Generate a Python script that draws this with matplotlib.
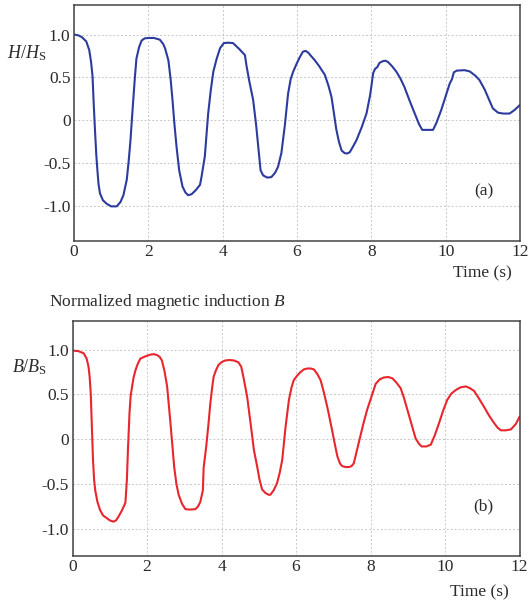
import matplotlib.pyplot as plt

plt.rcParams['font.family'] = ['Liberation Serif', 'DejaVu Serif']
plt.rcParams['mathtext.fontset'] = 'custom'
plt.rcParams['mathtext.rm'] = 'Liberation Serif'
plt.rcParams['mathtext.it'] = 'Liberation Serif:italic'

# normalized magnetic field H/Hs
t_h = [0.0, 0.12, 0.21, 0.33, 0.41, 0.46, 0.50, 0.53, 0.56, 0.60, 0.63, 0.66, 0.70,
       0.78, 0.88, 1.0, 1.15, 1.25, 1.33, 1.42, 1.47, 1.52, 1.58, 1.64, 1.68, 1.75,
       1.82, 1.90, 2.0, 2.15, 2.31, 2.40, 2.45, 2.54, 2.60, 2.65, 2.70, 2.76, 2.83,
       2.92, 3.0, 3.07, 3.16, 3.28, 3.39, 3.43, 3.52, 3.57, 3.61, 3.68, 3.75, 3.84,
       3.93, 4.03, 4.15, 4.28, 4.45, 4.60, 4.64, 4.72, 4.82, 4.90, 4.95, 5.02, 5.09,
       5.20, 5.31, 5.41, 5.49, 5.58, 5.67, 5.76, 5.83, 5.90, 5.99, 6.08, 6.16, 6.23,
       6.30, 6.40, 6.48, 6.60, 6.75, 6.85, 6.93, 7.06, 7.13, 7.20, 7.28, 7.35, 7.42,
       7.50, 7.60, 7.74, 7.87, 7.97, 8.05, 8.10, 8.16, 8.22, 8.31, 8.38, 8.45, 8.56,
       8.67, 8.78, 8.89, 9.03, 9.17, 9.28, 9.37, 9.50, 9.66, 9.75, 9.88, 10.0, 10.11,
       10.17, 10.22, 10.30, 10.51, 10.65, 10.80, 10.91, 11.05, 11.15, 11.27, 11.41,
       11.55, 11.72, 11.85, 12.0]
h = [1.0, 0.99, 0.97, 0.92, 0.82, 0.68, 0.51, 0.20, -0.07, -0.40, -0.58, -0.74, -0.85,
     -0.93, -0.97, -1.0, -1.0, -0.95, -0.87, -0.69, -0.48, -0.23, 0.15, 0.51, 0.72, 0.85,
     0.93, 0.955, 0.96, 0.96, 0.94, 0.89, 0.84, 0.70, 0.48, 0.24, -0.03, -0.31, -0.58,
     -0.77, -0.84, -0.87, -0.86, -0.81, -0.75, -0.66, -0.42, -0.15, 0.08, 0.35, 0.57, 0.72,
     0.84, 0.90, 0.905, 0.90, 0.83, 0.76, 0.64, 0.45, 0.24, -0.05, -0.27, -0.58, -0.64,
     -0.665, -0.66, -0.61, -0.54, -0.38, -0.07, 0.31, 0.48, 0.57, 0.66, 0.74, 0.80, 0.81,
     0.79, 0.74, 0.70, 0.63, 0.53, 0.40, 0.27, -0.11, -0.25, -0.35, -0.38, -0.385, -0.37,
     -0.31, -0.23, -0.08, 0.08, 0.30, 0.55, 0.60, 0.62, 0.67, 0.69, 0.695, 0.68, 0.63,
     0.57, 0.49, 0.39, 0.23, 0.08, -0.04, -0.11, -0.11, -0.11, -0.03, 0.12, 0.28, 0.43,
     0.48, 0.56, 0.58, 0.585, 0.57, 0.52, 0.47, 0.36, 0.26, 0.14, 0.09,
     0.08, 0.08, 0.12, 0.18]

# normalized magnetic induction B/Bs
t_b = [0.0, 0.15, 0.30, 0.38, 0.43, 0.46, 0.49, 0.52, 0.55, 0.58, 0.61, 0.67, 0.74,
       0.82, 0.92, 1.00, 1.10, 1.17, 1.24, 1.32, 1.42, 1.46, 1.49, 1.53, 1.56, 1.60,
       1.64, 1.69, 1.75, 1.82, 1.95, 2.09, 2.18, 2.27, 2.34, 2.40, 2.47, 2.54, 2.63,
       2.73, 2.79, 2.85, 2.94, 3.03, 3.15, 3.30, 3.37, 3.43, 3.50, 3.52, 3.59, 3.65,
       3.70, 3.75, 3.79, 3.85, 3.92, 4.00, 4.10, 4.22, 4.33, 4.45, 4.53, 4.60, 4.69,
       4.78, 4.87, 4.96, 5.02, 5.09, 5.18, 5.27, 5.31, 5.40, 5.49, 5.56, 5.63, 5.72,
       5.81, 5.88, 5.94, 6.03, 6.12, 6.21, 6.30, 6.40, 6.48, 6.57, 6.66, 6.75, 6.84,
       6.97, 7.04, 7.11, 7.18, 7.24, 7.33, 7.42, 7.49, 7.55, 7.62, 7.69, 7.80, 7.91,
       8.03, 8.14, 8.25, 8.36, 8.48, 8.59, 8.70, 8.81, 8.90, 8.99, 9.10, 9.21, 9.30,
       9.37, 9.50, 9.62, 9.73, 9.84, 9.95, 10.06, 10.17, 10.29, 10.42, 10.56, 10.67,
       10.78, 10.92, 11.05, 11.19, 11.32, 11.41, 11.50, 11.63, 11.77, 11.90, 12.0]
b = [0.99, 0.985, 0.96, 0.90, 0.81, 0.70, 0.51, 0.15, -0.23, -0.45, -0.57, -0.70, -0.79,
     -0.85, -0.88, -0.905, -0.92, -0.905, -0.86, -0.80, -0.71, -0.45, -0.10, 0.29, 0.48, 0.59,
     0.69, 0.77, 0.84, 0.90, 0.925, 0.945, 0.95, 0.94, 0.92, 0.88, 0.76, 0.59, 0.18,
     -0.31, -0.50, -0.62, -0.72, -0.78, -0.785, -0.78, -0.75, -0.70, -0.57, -0.32, -0.08, 0.17,
     0.40, 0.58, 0.70, 0.77, 0.83, 0.86, 0.88, 0.885, 0.88, 0.86, 0.81, 0.67, 0.47,
     0.18, -0.12, -0.31, -0.45, -0.56, -0.60, -0.62, -0.62, -0.57, -0.49, -0.38, -0.23, 0.14,
     0.44, 0.58, 0.66, 0.71, 0.75, 0.78, 0.79, 0.79, 0.78, 0.73, 0.66, 0.52, 0.36,
     0.10, -0.05, -0.19, -0.27, -0.30, -0.31, -0.31, -0.30, -0.27, -0.15, -0.03, 0.16, 0.33,
     0.48, 0.62, 0.67, 0.69, 0.695, 0.68, 0.63, 0.57, 0.46, 0.33, 0.17, 0.01, -0.05,
     -0.08, -0.08, -0.06, 0.05, 0.18, 0.32, 0.44, 0.51, 0.55, 0.58, 0.59, 0.57,
     0.54, 0.45, 0.36, 0.26, 0.18, 0.13, 0.10, 0.10, 0.11, 0.17, 0.25]

yticks = [1.0, 0.5, 0, -0.5, -1.0]
ytick_labels = ['1.0', '0.5', '0', '-0.5', '-1.0']
xticks = [0, 2, 4, 6, 8, 10, 12]

fig = plt.figure(figsize=(5.30, 6.03), dpi=100)
ax1 = fig.add_axes([0.1396, 0.6008, 0.8415, 0.3904])
ax2 = fig.add_axes([0.1368, 0.0784, 0.8434, 0.3892])


def style(ax, ylim):
    ax.set_xlim(0, 12)
    ax.set_ylim(*ylim)
    ax.set_xticks(xticks)
    ax.set_xticklabels([str(v) for v in xticks])
    ax.set_yticks(yticks)
    ax.set_yticklabels(ytick_labels)
    ax.tick_params(length=0, labelsize=12.5, pad=2.5, colors='#2a2a2a')
    ax.grid(True, color='#c8c8c8', linestyle=(0, (2, 2)), linewidth=0.7)
    for s in ax.spines.values():
        s.set_color('#444444')
        s.set_linewidth(1.1)


ax1.plot(t_h, h, color='#2d3a9e', linewidth=1.5, solid_joinstyle='round')
style(ax1, (-1.40, 1.34))
ax1.text(0.918, 0.21, '(a)', transform=ax1.transAxes, fontsize=12.5, ha='center', va='center', color='#2a2a2a')
fig.text(0.014, 0.912, r'$H/H_{\mathrm{S}}$', fontsize=13, ha='left', va='center', color='#2a2a2a')
fig.text(0.965, 0.547, 'Time (s)', fontsize=12.5, ha='right', va='center', color='#2a2a2a')

ax2.plot(t_b, b, color='#e8262d', linewidth=1.5, solid_joinstyle='round')
style(ax2, (-1.30, 1.32))
ax2.text(0.918, 0.21, '(b)', transform=ax2.transAxes, fontsize=12.5, ha='center', va='center', color='#2a2a2a')
fig.text(0.092, 0.500, r'Normalized magnetic induction $B$', fontsize=12.5, ha='left', va='center', color='#2a2a2a')
fig.text(0.023, 0.391, r'$B/B_{\mathrm{S}}$', fontsize=13, ha='left', va='center', color='#2a2a2a')
fig.text(0.960, 0.017, 'Time (s)', fontsize=12.5, ha='right', va='center', color='#2a2a2a')

fig.savefig('out.png', dpi=100)
